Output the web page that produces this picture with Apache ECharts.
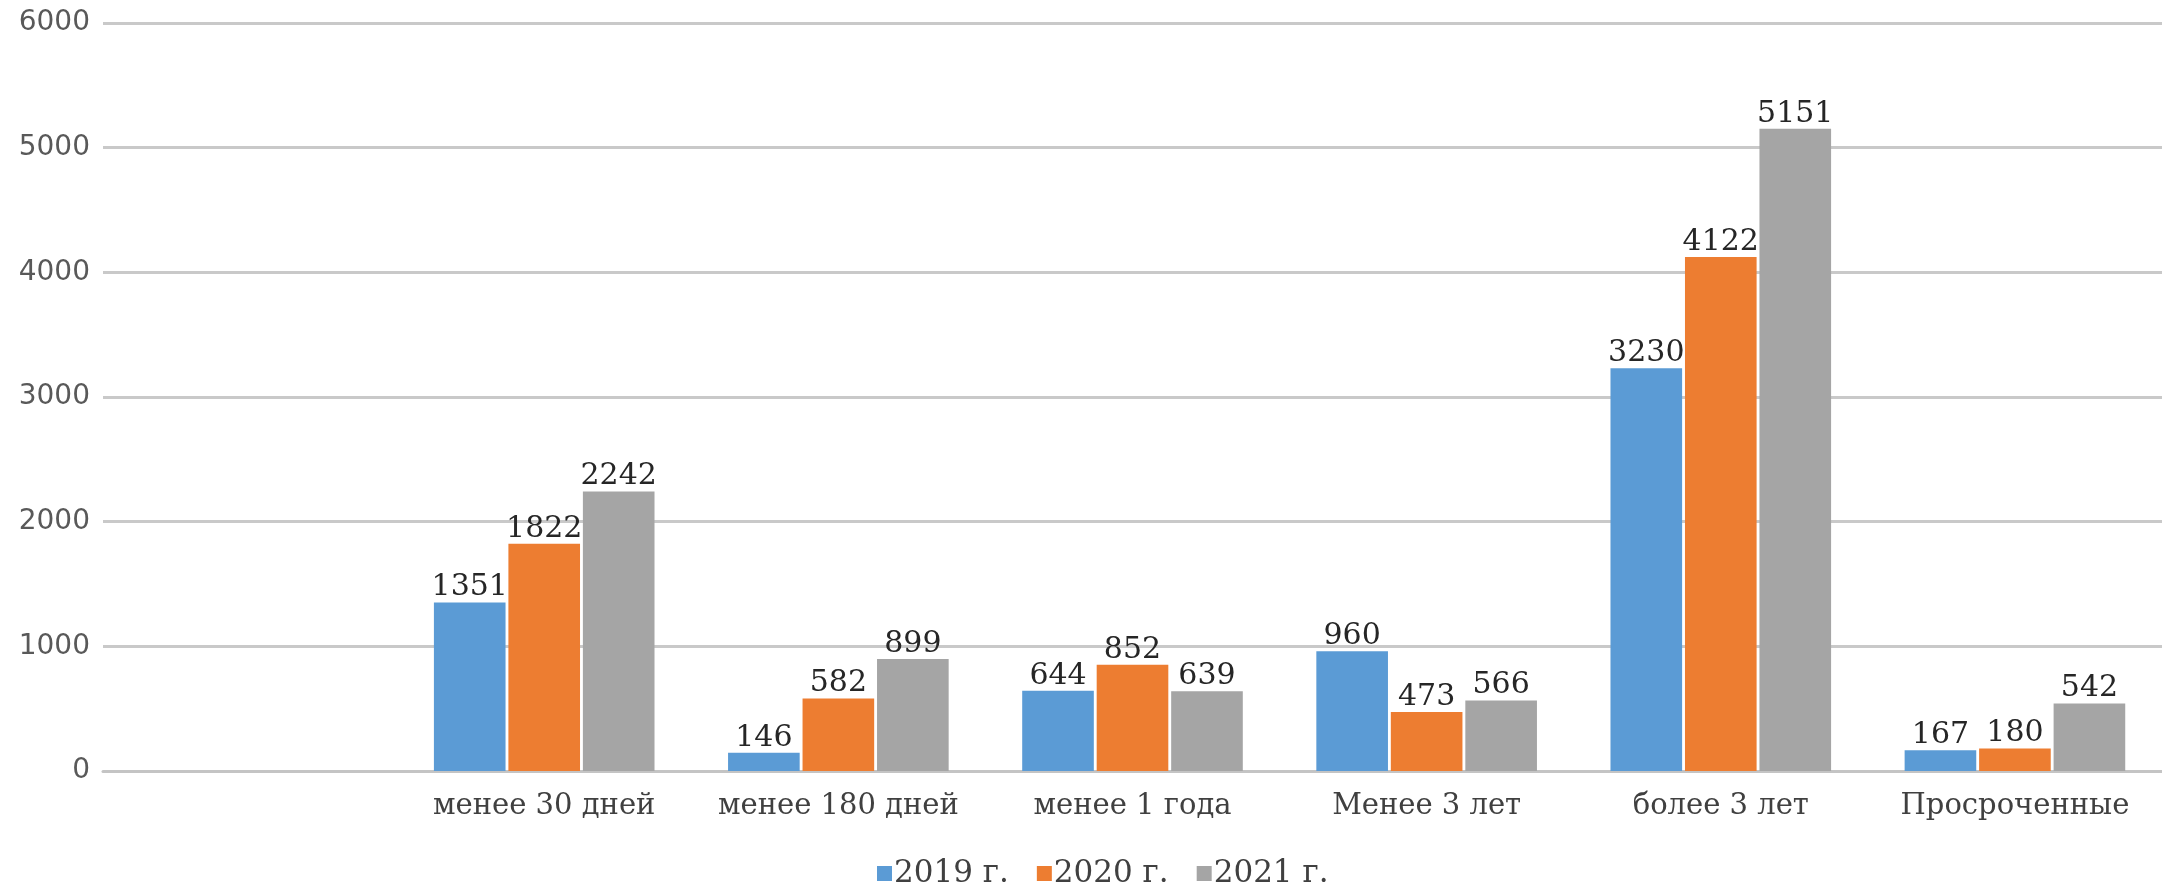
<!DOCTYPE html>
<html>
<head>
<meta charset="utf-8">
<script src="https://cdn.jsdelivr.net/npm/echarts@6/dist/echarts.min.js"></script>
<style>
html,body{margin:0;padding:0;background:#fff;}
#chart{width:2162px;height:893px;}
</style>
</head>
<body>
<div id="chart"></div>
<script>
const categories = ['', 'менее 30 дней', 'менее 180 дней', 'менее 1 года', 'Менее 3 лет', 'более 3 лет', 'Просроченные'];
const seriesNames = ['2019 г.', '2020 г.', '2021 г.'];
const values2019 = [null, 1351, 146, 644, 960, 3230, 167];
const values2020 = [null, 1822, 582, 852, 473, 4122, 180];
const values2021 = [null, 2242, 899, 639, 566, 5151, 542];
const yTicks = [0, 1000, 2000, 3000, 4000, 5000, 6000];

const colors = ['#5B9BD5', '#ED7D31', '#A5A5A5'];
const serifFont = 'DejaVu Serif';

const chart = echarts.init(document.getElementById('chart'));
const allValues = [values2019, values2020, values2021];

chart.setOption({
  animation: false,
  backgroundColor: '#ffffff',
  color: colors,
  grid: { left: 103, right: 0, top: 23, bottom: 122, containLabel: false },
  legend: {
    data: seriesNames,
    left: 872,
    top: 853,
    itemWidth: 15,
    itemHeight: 15,
    itemGap: 28,
    icon: 'rect',
    textStyle: { fontFamily: serifFont, fontSize: 31, color: '#404040', padding: [0, 0, 0, -3] }
  },
  xAxis: {
    type: 'category',
    data: categories,
    axisLine: { show: true, lineStyle: { color: '#c4c4c4', width: 3 } },
    axisTick: { show: false },
    axisLabel: { fontFamily: serifFont, fontSize: 29, color: '#404040', margin: 21, interval: 0 }
  },
  yAxis: {
    type: 'value',
    min: yTicks[0],
    max: yTicks[yTicks.length - 1],
    interval: yTicks[1] - yTicks[0],
    axisLine: { show: false },
    axisTick: { show: false },
    axisLabel: { fontFamily: 'DejaVu Sans', fontSize: 28, color: '#595959', margin: 13, formatter: v => String(v) },
    splitLine: { lineStyle: { color: '#c9c9c9', width: 3 } }
  },
  series: seriesNames.map((name, i) => ({
    name: name,
    type: 'bar',
    data: allValues[i],
    barGap: '4%',
    barCategoryGap: '25%',
    itemStyle: { color: colors[i] },
    label: {
      show: true,
      position: 'top',
      distance: 0,
      fontFamily: serifFont,
      fontSize: 30,
      color: '#262626'
    }
  }))
});
</script>
</body>
</html>
